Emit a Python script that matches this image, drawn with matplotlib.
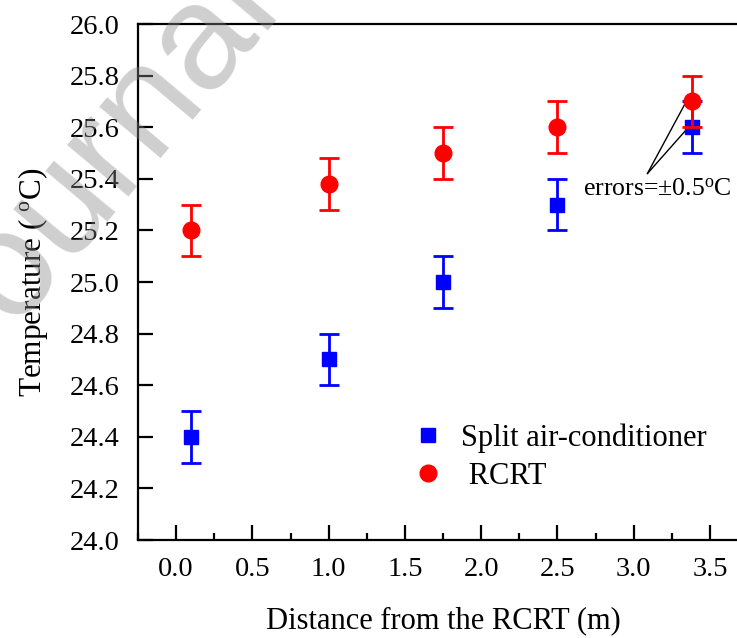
import matplotlib
matplotlib.use("Agg")
import matplotlib.pyplot as plt
from matplotlib.lines import Line2D
from matplotlib.ticker import MultipleLocator

plt.rcParams['font.family'] = ['Liberation Serif', 'DejaVu Serif']
plt.rcParams['mathtext.fontset'] = 'custom'
plt.rcParams['mathtext.rm'] = 'Liberation Serif'
plt.rcParams['mathtext.it'] = 'Liberation Serif:italic'

# Data
distance = [0.1, 1.0, 1.75, 2.5, 3.38]
split_ac = [24.4, 24.7, 25.0, 25.3, 25.6]
rcrt = [25.2, 25.38, 25.5, 25.6, 25.7]
err = [0.1, 0.1, 0.1, 0.1, 0.1]
labels = ['Split air-conditioner', ' RCRT']
xticks = [0.0, 0.5, 1.0, 1.5, 2.0, 2.5, 3.0, 3.5]
yticks = [24.0, 24.2, 24.4, 24.6, 24.8, 25.0, 25.2, 25.4, 25.6, 25.8, 26.0]

fig = plt.figure(figsize=(7.37, 6.38), dpi=100)
ax = fig.add_axes([138/737, 98/638, 610/737, 516/638])

# Watermark
fig.text(-0.045, 0.39, 'Journal Pre-proof', fontsize=108, family='Liberation Sans',
         color='#888888', alpha=0.4, rotation=50, rotation_mode='anchor',
         ha='left', va='baseline', zorder=10)

ax.errorbar(distance, split_ac, yerr=err, fmt='s', color='blue', ms=10,
            capsize=7, elinewidth=2, capthick=2, zorder=3)
ax.errorbar(distance, rcrt, yerr=err, fmt='o', color='red', ms=12,
            capsize=7, elinewidth=2, capthick=2, zorder=4)

ax.set_xlim(-0.25, 3.75)
ax.set_ylim(24.0, 26.0)
ax.set_xticks(xticks)
ax.set_xticklabels([f'{v:.1f}' for v in xticks])
ax.set_yticks(yticks)
ax.set_yticklabels([f'{v:.1f}' for v in yticks])
ax.xaxis.set_minor_locator(MultipleLocator(0.25))

for s in ax.spines.values():
    s.set_linewidth(1.6)
ax.tick_params(axis='both', which='major', direction='in', length=11, width=1.6,
               labelsize=20.5, top=False, right=False)
ax.tick_params(axis='x', which='major', pad=12)
ax.tick_params(axis='y', which='major', pad=13)
ax.tick_params(axis='x', which='minor', direction='in', length=5, width=1.6, top=False)

ax.set_xlabel('Distance from the RCRT (m)', fontsize=22, labelpad=18)
ax.set_ylabel(r'Temperature ( $^{\mathrm{o}}$C)', fontsize=22.5, labelpad=14)

handles = [Line2D([], [], marker='s', color='blue', ls='none', ms=10),
           Line2D([], [], marker='o', color='red', ls='none', ms=12)]
ax.legend(handles, labels, loc='upper left', bbox_to_anchor=(0.415, 0.25),
          frameon=False, fontsize=22, handletextpad=0.3, labelspacing=0.3,
          borderaxespad=0, handlelength=1.6)

ax.annotate('', xy=(distance[4] - 0.03, rcrt[4] + 0.005), xytext=(3.09, 25.42),
            arrowprops=dict(arrowstyle='-', lw=1, color='black', shrinkA=0, shrinkB=0))
ax.annotate('', xy=(distance[4] - 0.02, split_ac[4] + 0.0), xytext=(3.09, 25.42),
            arrowprops=dict(arrowstyle='-', lw=1, color='black', shrinkA=0, shrinkB=0))
ax.text(2.67, 25.36, r'errors=$\pm$0.5$^{\mathrm{o}}$C', fontsize=18.5, va='center', ha='left')

fig.savefig('out.png', dpi=100)
